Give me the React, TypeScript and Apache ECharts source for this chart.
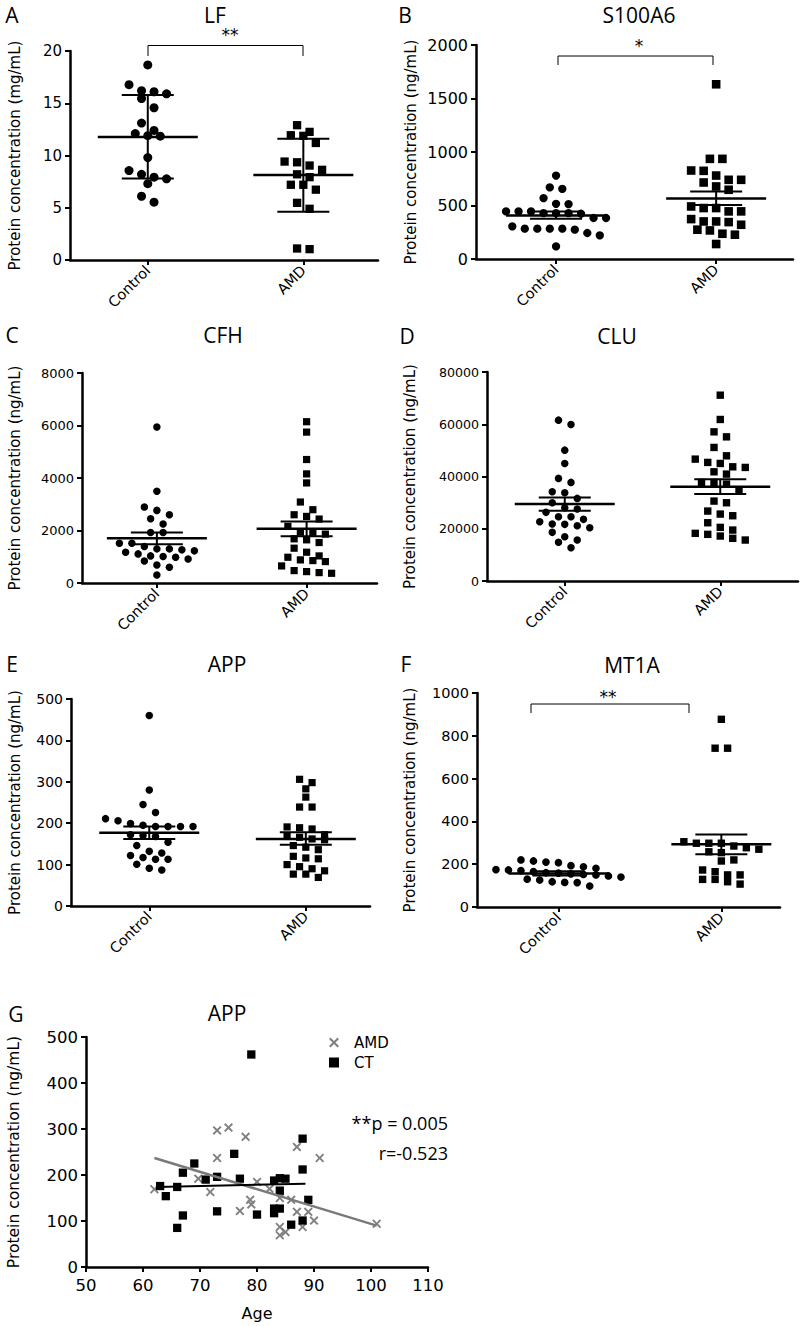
import React, { useEffect, useRef } from "react";
import * as echarts from "echarts";

// ---------- DATA ----------
const categories = ["Control", "AMD"];

const lfControl = [18.67, 16.78, 16.1, 15.9, 16.2, 15.45, 14.57, 13.1, 12.1, 11.85, 11.9, 12.4, 9.8, 8.2, 8.56, 7.77, 7.93, 7.3, 5.53, 6.1];
const lfAMD = [12.9, 12.26, 11.88, 11.94, 11.2, 9.04, 9.35, 9.42, 8.63, 8.2, 7.93, 7.2, 7.2, 6.73, 5.47, 4.9, 1.04, 1.1];
const lfMean = [11.78, 8.13];
const lfLow = [7.8, 4.62];
const lfHigh = [15.78, 11.6];

const s100Control = [780, 656, 669, 569, 513, 516, 445, 445, 429, 429, 423, 429, 445, 383, 383, 305, 283, 283, 243, 221, 274, 283, 283, 118];
const s100AMD = [1633, 936, 936, 827, 780, 824, 740, 740, 678, 715, 647, 491, 476, 445, 445, 476, 373, 351, 320, 274, 345, 351, 267, 227, 236, 140];
const s100Mean = [407, 565];
const s100Low = [376, 505];
const s100High = [445, 632];

const cfhControl = [5940, 3493, 2766, 2894, 2447, 2600, 2245, 1924, 1924, 1517, 1517, 1300, 1262, 1224, 1390, 1300, 1109, 1007, 1032, 1173, 917, 841, 981, 688, 600, 306];
const cfhAMD = [6144, 5748, 4704, 4156, 3812, 3085, 2792, 2600, 2537, 2436, 2155, 1924, 1683, 1542, 1644, 1862, 1937, 1326, 1032, 854, 880, 981, 1173, 816, 650, 434, 370, 396, 472];
const cfhMean = [1709, 2065];
const cfhLow = [1480, 1785];
const cfhHigh = [1928, 2345];

const cluControl = [61570, 59910, 50090, 44990, 39270, 37740, 34150, 33770, 31620, 29950, 27530, 28040, 24600, 23590, 24600, 26270, 22680, 21680, 20390, 21150, 21800, 18620, 16940, 15680, 14800, 12740];
const cluAMD = [71130, 61830, 55180, 57090, 51120, 44990, 45390, 47920, 46650, 43470, 43710, 40920, 41800, 37740, 37090, 37740, 34530, 29950, 30590, 25620, 26770, 24980, 22300, 20530, 18240, 17210, 15680, 16330, 17860, 19500];
const cluMean = [29445, 36070];
const cluLow = [26900, 33270];
const cluHigh = [32000, 38900];

const appControl = [460, 280, 245, 226, 211, 206, 199, 195, 192, 192, 192, 192, 172, 170, 168, 154, 146, 132, 128, 122, 117, 113, 113, 101, 91, 87];
const appAMD = [306, 298, 283, 263, 239, 239, 191, 189, 186, 172, 168, 166, 162, 160, 146, 142, 136, 120, 116, 114, 100, 95, 90, 85, 77, 77, 69];
const appMean = [177, 162];
const appLow = [162, 148];
const appHigh = [192, 178];

const mt1aControl = [220, 215, 210, 207, 193, 188, 181, 175, 173, 170, 165, 160, 158, 155, 152, 150, 145, 140, 130, 126, 118, 115, 114, 98];
const mt1aAMD = [877, 742, 742, 298, 285, 305, 298, 277, 298, 270, 254, 258, 220, 215, 173, 165, 150, 129, 107, 118, 129, 150];
const mt1aMean = [157, 293];
const mt1aLow = [147, 246];
const mt1aHigh = [167, 339];

// Panel G: APP vs age
const ctAge = [79, 63, 64, 66, 66, 67, 67, 69, 71, 73, 73, 76, 77, 80, 83, 83, 83, 84, 84, 84, 85, 86, 88, 88, 88, 89];
const ctAPP = [462, 176, 154, 174, 85, 205, 112, 225, 190, 196, 121, 246, 192, 114, 188, 127, 117, 193, 166, 127, 192, 92, 279, 212, 101, 146];
const amdAge = [62, 69.7, 71.8, 73, 73, 75, 78, 77, 78.8, 79, 80, 82.2, 84, 84, 84, 85, 86, 87, 87, 88, 89, 90, 91, 101];
const amdAPP = [169, 192, 163, 297, 237, 303, 283, 122, 146, 136, 185, 170, 150, 87, 69, 76, 146, 120, 261, 87, 120, 101, 237, 94];
const amdFitAge = [62, 101];
const amdFitAPP = [237, 90];
const ctFitAge = [62.5, 88.5];
const ctFitAPP = [174, 181];
const ageTicks = [50, 110, 10];
const gTexts = ["**p = 0.005", "r=-0.523"];

// ---------- LAYOUT ----------
const AX = "DejaVu Sans";
const TF = "'Open Sans', sans-serif";

const panels = [
  { letter: "A", title: "LF", unit: "Protein concentration (mg/mL)", c: lfControl, a: lfAMD, mean: lfMean, low: lfLow, high: lfHigh, yMax: 20, yInt: 5, left: 70, top: 51, width: 308, height: 209, xMax: 1.98, tickFont: 15, nameGap: 48, circ: 9, sq: 8.3, tx: 215, ty: 15, lx: 12, ly: 15 },
  { letter: "B", title: "S100A6", unit: "Protein concentration (ng/mL)", c: s100Control, a: s100AMD, mean: s100Mean, low: s100Low, high: s100High, yMax: 2000, yInt: 500, left: 476, top: 45, width: 317, height: 214, xMax: 1.98, tickFont: 16, nameGap: 58, circ: 8.3, sq: 8.6, tx: 639, ty: 15, lx: 405, ly: 15 },
  { letter: "C", title: "CFH", unit: "Protein concentration (ng/mL)", c: cfhControl, a: cfhAMD, mean: cfhMean, low: cfhLow, high: cfhHigh, yMax: 8000, yInt: 2000, left: 82, top: 373, width: 295, height: 210, xMax: 1.97, tickFont: 13, nameGap: 60, circ: 7.5, sq: 7.2, tx: 223, ty: 335, lx: 12, ly: 335 },
  { letter: "D", title: "CLU", unit: "Protein concentration (ng/mL)", c: cluControl, a: cluAMD, mean: cluMean, low: cluLow, high: cluHigh, yMax: 80000, yInt: 20000, left: 487, top: 372, width: 311, height: 209, xMax: 2.0, tickFont: 12.6, nameGap: 70, circ: 7.5, sq: 7.4, tx: 617, ty: 336, lx: 407, ly: 336 },
  { letter: "E", title: "APP", unit: "Protein concentration (ng/mL)", c: appControl, a: appAMD, mean: appMean, low: appLow, high: appHigh, yMax: 500, yInt: 100, left: 71, top: 699, width: 299, height: 207, xMax: 1.91, tickFont: 14, nameGap: 49, circ: 7.5, sq: 7.2, tx: 227, ty: 664, lx: 12, ly: 664 },
  { letter: "F", title: "MT1A", unit: "Protein concentration (ng/mL)", c: mt1aControl, a: mt1aAMD, mean: mt1aMean, low: mt1aLow, high: mt1aHigh, yMax: 1000, yInt: 200, left: 477, top: 693, width: 303, height: 214, xMax: 1.86, tickFont: 14.5, nameGap: 60, circ: 7.7, sq: 7.4, tx: 632, ty: 665, lx: 406, ly: 664 },
];

const brackets = [
  { x1: 148, x2: 303, yTop: 45.5, yLeg: 56, star: "**", sx: 230, sy: 35 },
  { x1: 558, x2: 713, yTop: 56, yLeg: 65, star: "*", sx: 639, sy: 46 },
  { x1: 531, x2: 689, yTop: 704, yLeg: 713, star: "**", sx: 608, sy: 697 },
];

const G = { left: 86, top: 1037, width: 342, height: 230 };

function swarmOffsets(values: number[], pxPerUnit: number, rowH: number, step: number): number[] {
  const idx = values.map((_, i) => i).sort((p, q) => values[q] - values[p]);
  const off = new Array(values.length).fill(0);
  let row: number[] = [];
  let rowTop = 0;
  const flush = () => {
    const n = row.length;
    row.forEach((id, k) => {
      off[id] = (k - (n - 1) / 2) * step;
    });
  };
  idx.forEach((id) => {
    const py = values[id] * pxPerUnit;
    if (row.length && rowTop - py < rowH) row.push(id);
    else {
      if (row.length) flush();
      row = [id];
      rowTop = py;
    }
  });
  if (row.length) flush();
  return off;
}

const XPATH = "path://M1.5,0 L5,3.5 L8.5,0 L10,1.5 L6.5,5 L10,8.5 L8.5,10 L5,6.5 L1.5,10 L0,8.5 L3.5,5 L0,1.5 Z";
const plain = (v: number) => String(v);

function txt(x: number, y: number, text: string, size: number, family: string, align = "center") {
  return {
    type: "text", x, y,
    style: { text, font: `${size}px ${family}`, lineHeight: size, fill: "#000", align, verticalAlign: "middle" },
  };
}

function buildOption() {
  const grid: any[] = [];
  const xAxis: any[] = [];
  const yAxis: any[] = [];
  const series: any[] = [];
  const graphic: any[] = [];

  panels.forEach((p, i) => {
    grid.push({ left: p.left, top: p.top, width: p.width, height: p.height });
    xAxis.push({
      type: "value", gridIndex: i, min: 0, max: p.xMax,
      axisLine: { show: true, onZero: false, lineStyle: { color: "#000", width: 2.5 } },
      axisTick: { show: true, customValues: [0.5, 1.5], length: 5, lineStyle: { color: "#000", width: 2 } },
      axisLabel: {
        customValues: [0.5, 1.5], rotate: 45, margin: 8,
        formatter: (v: number) => (v < 1 ? categories[0] : categories[1]),
        fontFamily: AX, fontSize: 14.5, color: "#000",
      },
      splitLine: { show: false },
    });
    yAxis.push({
      type: "value", gridIndex: i, min: 0, max: p.yMax, interval: p.yInt,
      axisLine: { show: true, lineStyle: { color: "#000", width: 2.5 } },
      axisTick: { show: true, length: 5, lineStyle: { color: "#000", width: 2 } },
      axisLabel: { fontFamily: AX, fontSize: p.tickFont, color: "#000", margin: 8, formatter: plain },
      splitLine: { show: false },
      name: p.unit, nameLocation: "middle", nameRotate: 90, nameGap: p.nameGap,
      nameTextStyle: { fontFamily: AX, fontSize: 15, color: "#000" },
    });
    const ppu = p.height / p.yMax;
    const xPerPx = p.xMax / p.width;
    const step = 12.5;
    const offC = swarmOffsets(p.c, ppu, p.circ + 1, step);
    const offA = swarmOffsets(p.a, ppu, p.sq + 1, step);
    series.push({
      type: "scatter", xAxisIndex: i, yAxisIndex: i, symbol: "circle", symbolSize: p.circ,
      itemStyle: { color: "#000", opacity: 1 }, z: 2,
      data: p.c.map((v, k) => [0.5 + offC[k] * xPerPx, v]),
    });
    series.push({
      type: "scatter", xAxisIndex: i, yAxisIndex: i, symbol: "rect", symbolSize: p.sq,
      itemStyle: { color: "#000", opacity: 1 }, z: 2,
      data: p.a.map((v, k) => [1.5 + offA[k] * xPerPx, v]),
    });
    series.push({
      type: "custom", xAxisIndex: i, yAxisIndex: i, z: 5,
      data: [0, 1].map((c) => [c + 0.5, p.mean[c], p.low[c], p.high[c]]),
      renderItem: (_params: any, api: any) => {
        const x = api.value(0);
        const pm = api.coord([x, api.value(1)]);
        const pl = api.coord([x, api.value(2)]);
        const ph = api.coord([x, api.value(3)]);
        const st = { stroke: "#000", lineWidth: 2 };
        return {
          type: "group",
          children: [
            { type: "line", shape: { x1: pm[0] - 50, y1: pm[1], x2: pm[0] + 50, y2: pm[1] }, style: { stroke: "#000", lineWidth: 2.5 } },
            { type: "line", shape: { x1: pl[0], y1: pl[1], x2: ph[0], y2: ph[1] }, style: st },
            { type: "line", shape: { x1: pl[0] - 26, y1: pl[1], x2: pl[0] + 26, y2: pl[1] }, style: st },
            { type: "line", shape: { x1: ph[0] - 26, y1: ph[1], x2: ph[0] + 26, y2: ph[1] }, style: st },
          ],
        };
      },
    });
    graphic.push(txt(p.tx, p.ty, p.title, 21, TF));
    graphic.push(txt(p.lx, p.ly, p.letter, 21, TF));
  });

  brackets.forEach((b) => {
    graphic.push({
      type: "polyline",
      shape: { points: [[b.x1, b.yLeg], [b.x1, b.yTop], [b.x2, b.yTop], [b.x2, b.yLeg]] },
      style: { stroke: "#000", lineWidth: 1, fill: null },
    });
    graphic.push(txt(b.sx, b.sy, b.star, 17, AX));
  });

  // Panel G
  const gi = panels.length;
  grid.push({ left: G.left, top: G.top, width: G.width, height: G.height });
  xAxis.push({
    type: "value", gridIndex: gi, min: ageTicks[0], max: ageTicks[1], interval: ageTicks[2],
    axisLine: { show: true, onZero: false, lineStyle: { color: "#000", width: 2.5 } },
    axisTick: { show: true, length: 5, lineStyle: { color: "#000", width: 2 } },
    axisLabel: { fontFamily: AX, fontSize: 16.5, color: "#000", margin: 10, formatter: plain },
    splitLine: { show: false },
    name: "Age", nameLocation: "middle", nameGap: 38,
    nameTextStyle: { fontFamily: AX, fontSize: 16, color: "#000" },
  });
  yAxis.push({
    type: "value", gridIndex: gi, min: 0, max: 500, interval: 100,
    axisLine: { show: true, lineStyle: { color: "#000", width: 2.5 } },
    axisTick: { show: true, length: 5, lineStyle: { color: "#000", width: 2 } },
    axisLabel: { fontFamily: AX, fontSize: 16.5, color: "#000", margin: 8, formatter: plain },
    splitLine: { show: false },
    name: "Protein concentration (ng/mL)", nameLocation: "middle", nameRotate: 90, nameGap: 64,
    nameTextStyle: { fontFamily: AX, fontSize: 15.5, color: "#000" },
  });
  series.push({
    name: "AMD", type: "scatter", xAxisIndex: gi, yAxisIndex: gi, symbol: XPATH, symbolSize: 9,
    itemStyle: { color: "#808080", opacity: 1 }, z: 2,
    data: amdAge.map((a, k) => [a, amdAPP[k]]),
  });
  series.push({
    name: "CT", type: "scatter", xAxisIndex: gi, yAxisIndex: gi, symbol: "rect", symbolSize: 8.3,
    itemStyle: { color: "#000", opacity: 1 }, z: 3,
    data: ctAge.map((a, k) => [a, ctAPP[k]]),
  });
  series.push({
    type: "line", xAxisIndex: gi, yAxisIndex: gi, symbol: "none", z: 4,
    lineStyle: { color: "#7a7a7a", width: 2.5 },
    data: amdFitAge.map((a, k) => [a, amdFitAPP[k]]),
  });
  series.push({
    type: "line", xAxisIndex: gi, yAxisIndex: gi, symbol: "none", z: 4,
    lineStyle: { color: "#000", width: 2 },
    data: ctFitAge.map((a, k) => [a, ctFitAPP[k]]),
  });
  graphic.push(txt(227, 1013, "APP", 21, TF));
  graphic.push(txt(16, 1014, "G", 21, TF));
  graphic.push(txt(448, 1123, gTexts[0], 18, TF, "right"));
  graphic.push(txt(448, 1153, gTexts[1], 18, TF, "right"));

  return {
    animation: false,
    backgroundColor: "#fff",
    grid, xAxis, yAxis, series, graphic,
    legend: {
      data: ["AMD", "CT"], orient: "vertical", left: 324, top: 1030, itemGap: 5,
      itemWidth: 10, itemHeight: 10,
      textStyle: { fontFamily: AX, fontSize: 15, color: "#000", padding: [0, 0, 0, 10] },
    },
  };
}

export default function App() {
  const ref = useRef<HTMLDivElement>(null);
  useEffect(() => {
    if (!ref.current) return;
    const chart = echarts.init(ref.current, null, { renderer: "svg" });
    chart.setOption(buildOption() as any);
    return () => chart.dispose();
  }, []);
  return <div ref={ref} style={{ position: "absolute", left: 0, top: 0, width: 800, height: 1326 }} />;
}
